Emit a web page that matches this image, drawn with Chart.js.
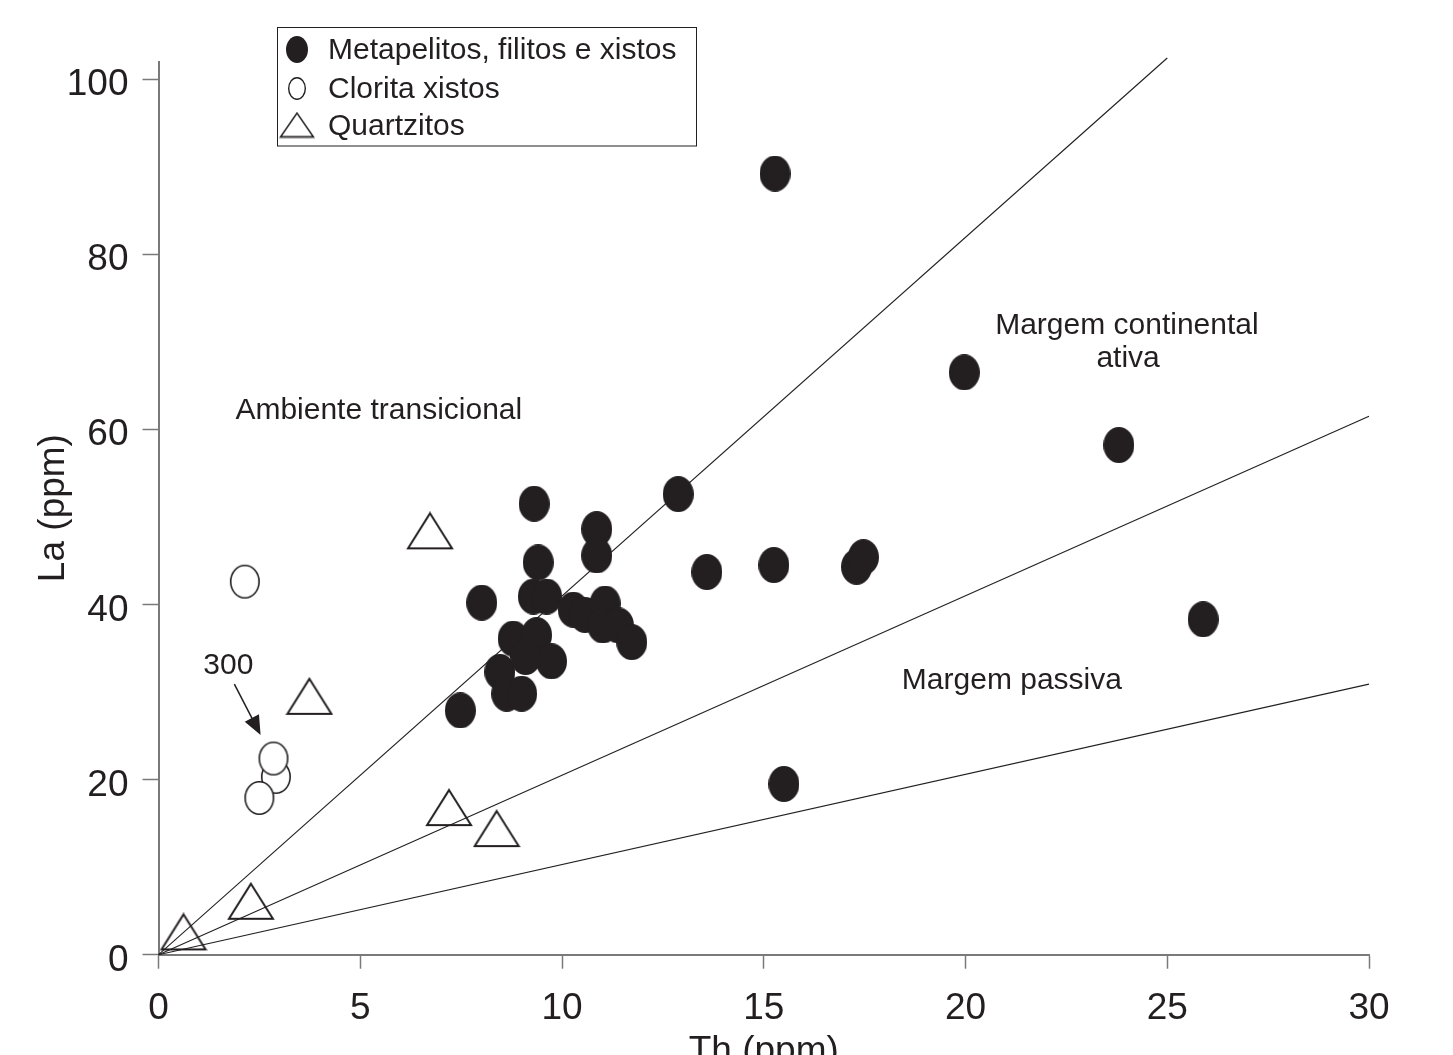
<!DOCTYPE html>
<html>
<head>
<meta charset="utf-8">
<script src="https://cdn.jsdelivr.net/npm/chart.js@4.4.1/dist/chart.umd.min.js"></script>
<style>
  html, body { margin: 0; padding: 0; background: #ffffff; }
  #wrap { width: 1453px; height: 1055px; position: relative; }
</style>
</head>
<body>
<div id="wrap"><canvas id="c" width="1453" height="1055"></canvas></div>
<script>
// ---------- data ----------
const seriesNames = ['Metapelitos, filitos e xistos', 'Clorita xistos', 'Quartzitos'];

const metaTh = [15.28, 19.97, 23.80, 25.89, 15.50, 12.88, 13.59, 15.25, 17.30, 17.47,
                9.31, 10.86, 10.86, 9.41, 8.01, 9.29, 9.62, 10.28, 10.57, 11.07,
                11.01, 11.40, 11.73, 8.79, 9.37, 9.74, 8.46, 8.63, 9.00, 9.10, 7.48];
const metaLa = [89.2, 66.5, 58.2, 38.3, 19.5, 52.6, 43.7, 44.5, 44.3, 45.4,
                51.5, 48.6, 45.6, 44.8, 40.2, 40.9, 40.9, 39.4, 38.8, 40.1,
                37.6, 37.6, 35.7, 36.1, 36.5, 33.5, 32.3, 29.8, 29.8, 34.0, 27.9];

const cloTh = [2.91, 2.85, 2.50, 2.14];
const cloLa = [20.3, 22.4, 17.9, 42.6];

const qtzTh = [6.73, 3.74, 7.20, 8.38, 2.29, 0.62];
const qtzLa = [48.4, 29.5, 16.8, 14.4, 6.1, 2.6];

// discriminant lines from the origin (end points)
const lineTh = [25, 30, 30];
const lineLa = [102.4, 61.5, 30.9];

const xTicks = [0, 5, 10, 15, 20, 25, 30];
const yTicks = [0, 20, 40, 60, 80, 100];

const fieldLabels = ['Ambiente transicional', 'Margem continental', 'ativa', 'Margem passiva', '300'];
const fieldTh = [5.46, 24.0, 24.03, 21.15, 1.73];
const fieldLa = [62.1, 71.8, 68.1, 31.3, 33.0];

const arrowTh = [1.88, 2.53];
const arrowLa = [30.9, 25.1];

// ---------- styles ----------
const INK = '#231f20';
const AXIS = '#7a7a7a';
const FONT = '"Liberation Sans", Arial, Helvetica, sans-serif';

function makeCanvas(w, h) {
  const c = document.createElement('canvas');
  c.width = w; c.height = h;
  return c;
}
function filledEllipse(w, h) {
  const c = makeCanvas(w, h), g = c.getContext('2d');
  g.beginPath(); g.ellipse(w / 2, h / 2, w / 2, h / 2, 0, 0, Math.PI * 2);
  g.fillStyle = INK; g.fill();
  return c;
}
function openEllipse(w, h, lw) {
  const c = makeCanvas(w + 2, h + 2), g = c.getContext('2d');
  g.beginPath(); g.ellipse((w + 2) / 2, (h + 2) / 2, w / 2 - lw / 2, h / 2 - lw / 2, 0, 0, Math.PI * 2);
  g.fillStyle = '#ffffff'; g.fill();
  g.lineWidth = lw; g.strokeStyle = INK; g.stroke();
  return c;
}
function openTriangle(w, h, lw) {
  const c = makeCanvas(w, h), g = c.getContext('2d');
  g.beginPath();
  g.moveTo(w / 2, lw);
  g.lineTo(w - lw, h - lw);
  g.lineTo(lw, h - lw);
  g.closePath();
  g.lineJoin = 'miter';
  g.lineWidth = lw; g.strokeStyle = INK; g.stroke();
  return c;
}

const styleMeta = filledEllipse(31, 36);
const styleClo = openEllipse(30, 34, 1.6);
const styleQtz = openTriangle(48, 39, 2);

const legendStyles = [filledEllipse(22, 27), openEllipse(18, 23, 1.4), openTriangle(36, 27, 1.6)];

function pts(xs, ys) { return xs.map((x, i) => ({ x: x, y: ys[i] })); }

const datasets = [
  { label: seriesNames[0], data: pts(metaTh, metaLa), pointStyle: styleMeta, pointRadius: 15, showLine: false },
  { label: seriesNames[1], data: pts(cloTh, cloLa), pointStyle: styleClo, pointRadius: 15, showLine: false },
  { label: seriesNames[2], data: pts(qtzTh, qtzLa), pointStyle: styleQtz, pointRadius: 15, showLine: false }
];
lineTh.forEach((t, i) => {
  datasets.push({
    label: 'line' + i,
    data: [{ x: 0, y: 0 }, { x: t, y: lineLa[i] }],
    showLine: true, pointRadius: 0, borderColor: INK, borderWidth: 1.1,
    clip: false
  });
});

// ---------- plugins ----------
const overlayPlugin = {
  id: 'overlay',
  afterDatasetsDraw(chart) {
    const { ctx, scales: { x, y } } = chart;
    ctx.save();
    ctx.fillStyle = INK;
    ctx.font = '30px ' + FONT;
    ctx.textAlign = 'center';
    ctx.textBaseline = 'middle';
    fieldLabels.forEach((t, i) => {
      ctx.fillText(t, x.getPixelForValue(fieldTh[i]), y.getPixelForValue(fieldLa[i]));
    });
    // arrow "300"
    const x0 = x.getPixelForValue(arrowTh[0]), y0 = y.getPixelForValue(arrowLa[0]);
    const x1 = x.getPixelForValue(arrowTh[1]), y1 = y.getPixelForValue(arrowLa[1]);
    const ang = Math.atan2(y1 - y0, x1 - x0);
    const L = 19, W = 8;
    ctx.strokeStyle = INK; ctx.lineWidth = 1.5;
    ctx.beginPath(); ctx.moveTo(x0, y0);
    ctx.lineTo(x1 - Math.cos(ang) * L * 0.8, y1 - Math.sin(ang) * L * 0.8); ctx.stroke();
    ctx.beginPath();
    ctx.moveTo(x1, y1);
    ctx.lineTo(x1 - Math.cos(ang) * L + Math.sin(ang) * W, y1 - Math.sin(ang) * L - Math.cos(ang) * W);
    ctx.lineTo(x1 - Math.cos(ang) * L - Math.sin(ang) * W, y1 - Math.sin(ang) * L + Math.cos(ang) * W);
    ctx.closePath(); ctx.fill();

    // legend box
    const bx = 277, by = 27.5, bw = 419, bh = 118.5;
    ctx.lineWidth = 1; ctx.strokeStyle = INK;
    ctx.strokeRect(bx + 0.5, by, bw, bh);
    const rowY = [49.5, 88.5, 125];
    ctx.font = '30px ' + FONT;
    ctx.textAlign = 'left';
    seriesNames.forEach((name, i) => {
      const s = legendStyles[i];
      ctx.drawImage(s, 297 - s.width / 2, rowY[i] - s.height / 2);
      ctx.fillText(name, 328, rowY[i] + 1.5);
    });
    ctx.restore();
  }
};

Chart.defaults.font.family = FONT;
Chart.defaults.color = INK;

new Chart(document.getElementById('c'), {
  type: 'scatter',
  data: { datasets: datasets },
  options: {
    responsive: false,
    animation: false,
    devicePixelRatio: 1,
    events: [],
    layout: { padding: { left: 0, right: 84, top: 61.5, bottom: 0 } },
    plugins: { legend: { display: false }, tooltip: { enabled: false } },
    scales: {
      x: {
        type: 'linear', min: 0, max: 30,
        afterBuildTicks: s => { s.ticks = xTicks.map(v => ({ value: v })); },
        afterFit: s => { s.height = 100.3; },
        ticks: { font: { size: 37 }, color: INK, padding: 18, maxRotation: 0 },
        grid: { drawOnChartArea: false, drawTicks: true, tickLength: 14, tickColor: AXIS, tickWidth: 1.5 },
        border: { display: true, color: AXIS, width: 2 },
        title: { display: true, text: 'Th (ppm)', color: INK, font: { size: 37, lineHeight: 0.18 }, padding: { top: 0, bottom: 0 } }
      },
      y: {
        type: 'linear', min: 0, max: 102,
        afterBuildTicks: s => { s.ticks = yTicks.map(v => ({ value: v })); },
        afterFit: s => { s.width = 158.5; },
        ticks: { font: { size: 37 }, color: INK, padding: 14, labelOffset: 6 },
        grid: { drawOnChartArea: false, drawTicks: true, tickLength: 16, tickColor: AXIS, tickWidth: 1.5 },
        border: { display: true, color: AXIS, width: 2 },
        title: { display: true, text: 'La (ppm)', color: INK, font: { size: 37, lineHeight: 1.2 }, padding: { top: 32, bottom: 0 } }
      }
    }
  },
  plugins: [overlayPlugin]
});
</script>
</body>
</html>
